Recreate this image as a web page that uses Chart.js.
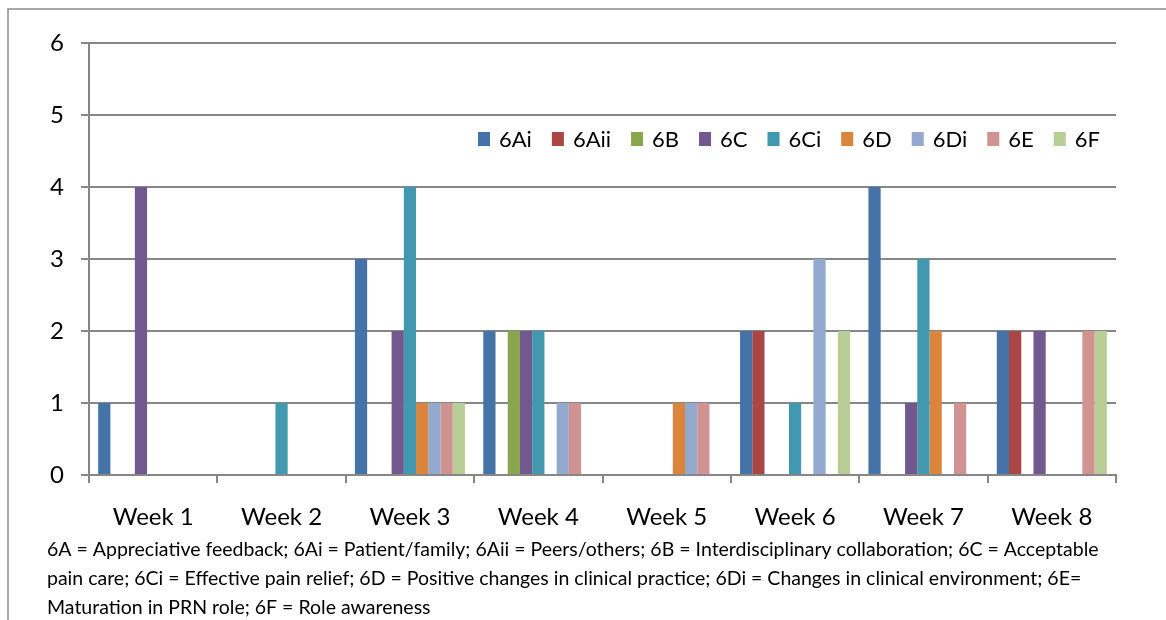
<!DOCTYPE html>
<html>
<head>
<meta charset="utf-8">
<script src="https://cdn.jsdelivr.net/npm/chart.js@4.4.0/dist/chart.umd.min.js"></script>
<style>
html,body{margin:0;padding:0;background:#fff;}
#wrap{width:1166px;height:620px;position:relative;}
</style>
</head>
<body>
<div id="wrap"><canvas id="c" width="1166" height="620"></canvas></div>
<script>
// ---- data ----
const categories = ['Week 1','Week 2','Week 3','Week 4','Week 5','Week 6','Week 7','Week 8'];
const seriesNames = ['6Ai','6Aii','6B','6C','6Ci','6D','6Di','6E','6F'];
const values6Ai  = [1,0,3,2,0,2,4,2];
const values6Aii = [0,0,0,0,0,2,0,2];
const values6B   = [0,0,0,2,0,0,0,0];
const values6C   = [4,0,2,2,0,0,1,2];
const values6Ci  = [0,1,4,2,0,1,3,0];
const values6D   = [0,0,1,0,1,0,2,0];
const values6Di  = [0,0,1,1,1,3,0,0];
const values6E   = [0,0,1,1,1,0,1,2];
const values6F   = [0,0,1,0,0,2,0,2];
const yTickValues = [0,1,2,3,4,5,6];
const footnoteLines = [
  '6A = Appreciative feedback; 6Ai = Patient/family; 6Aii = Peers/others; 6B = Interdisciplinary collaboration; 6C = Acceptable',
  'pain care; 6Ci = Effective pain relief; 6D = Positive changes in clinical practice; 6Di = Changes in clinical environment; 6E=',
  'Maturation in PRN role; 6F = Role awareness'
];

// ---- styles ----
const seriesValues = [values6Ai, values6Aii, values6B, values6C, values6Ci, values6D, values6Di, values6E, values6F];
const seriesColors = ['#4572A7','#AA4643','#89A54E','#71588F','#4198AF','#DB843D','#93A9CF','#D19392','#B9CD96'];
const FONT = 'Lato';
const GRID = '#878787';

const datasets = seriesNames.map((name, i) => ({
  label: name,
  data: seriesValues[i],
  backgroundColor: seriesColors[i],
  borderWidth: 0,
  categoryPercentage: 9 / 10.5,
  barPercentage: 1
}));

const framePlugin = {
  id: 'frame',
  beforeDraw(chart) {
    const ctx = chart.ctx;
    ctx.save();
    ctx.fillStyle = '#fff';
    ctx.fillRect(0, 0, chart.width, chart.height);
    ctx.strokeStyle = '#8c8c8c';
    ctx.lineWidth = 1.5;
    ctx.beginPath();
    ctx.moveTo(8, chart.height + 5);
    ctx.lineTo(8, 9);
    ctx.lineTo(chart.width + 5, 9);
    ctx.stroke();
    ctx.restore();
  }
};

const insideLegend = {
  id: 'insideLegend',
  afterDraw(chart) {
    const ctx = chart.ctx;
    ctx.save();
    ctx.font = '22px ' + FONT;
    ctx.textBaseline = 'middle';
    ctx.textAlign = 'left';
    const yMid = 139;
    let x = 478;
    chart.data.datasets.forEach(ds => {
      ctx.fillStyle = ds.backgroundColor;
      ctx.fillRect(x, yMid - 7, 12, 14);
      ctx.fillStyle = '#000';
      ctx.fillText(ds.label, x + 21, yMid + 1);
      x += 21 + ctx.measureText(ds.label).width + 20;
    });
    ctx.restore();
  }
};

new Chart(document.getElementById('c'), {
  type: 'bar',
  data: { labels: categories, datasets },
  options: {
    responsive: false,
    animation: false,
    devicePixelRatio: 1,
    layout: { padding: { left: 47, right: 50, top: 43, bottom: 0 } },
    plugins: {
      legend: { display: false },
      tooltip: { enabled: false },
      subtitle: {
        display: true,
        position: 'bottom',
        align: 'start',
        text: footnoteLines,
        color: '#000',
        font: { family: FONT, size: 19.5, lineHeight: '29px' },
        padding: { top: 0, bottom: -2 }
      }
    },
    scales: {
      x: {
        offset: true,
        grid: { offset: true, drawOnChartArea: false, drawTicks: true, tickLength: 8, color: GRID, lineWidth: 2 },
        border: { display: true, color: GRID, width: 2 },
        ticks: { color: '#000', font: { family: FONT, size: 24, lineHeight: 1.2 }, padding: 20, maxRotation: 0, autoSkip: false },
        afterFit(s) { s.height = 60; }
      },
      y: {
        min: 0,
        max: 6,
        afterBuildTicks(s) { s.ticks = yTickValues.map(v => ({ value: v })); },
        grid: { color: GRID, lineWidth: 2, tickLength: 8 },
        border: { display: true, color: GRID, width: 2 },
        ticks: { color: '#000', font: { family: FONT, size: 24 }, padding: 17 },
        afterFit(s) { s.width = 42; }
      }
    }
  },
  plugins: [framePlugin, insideLegend]
});
</script>
</body>
</html>
